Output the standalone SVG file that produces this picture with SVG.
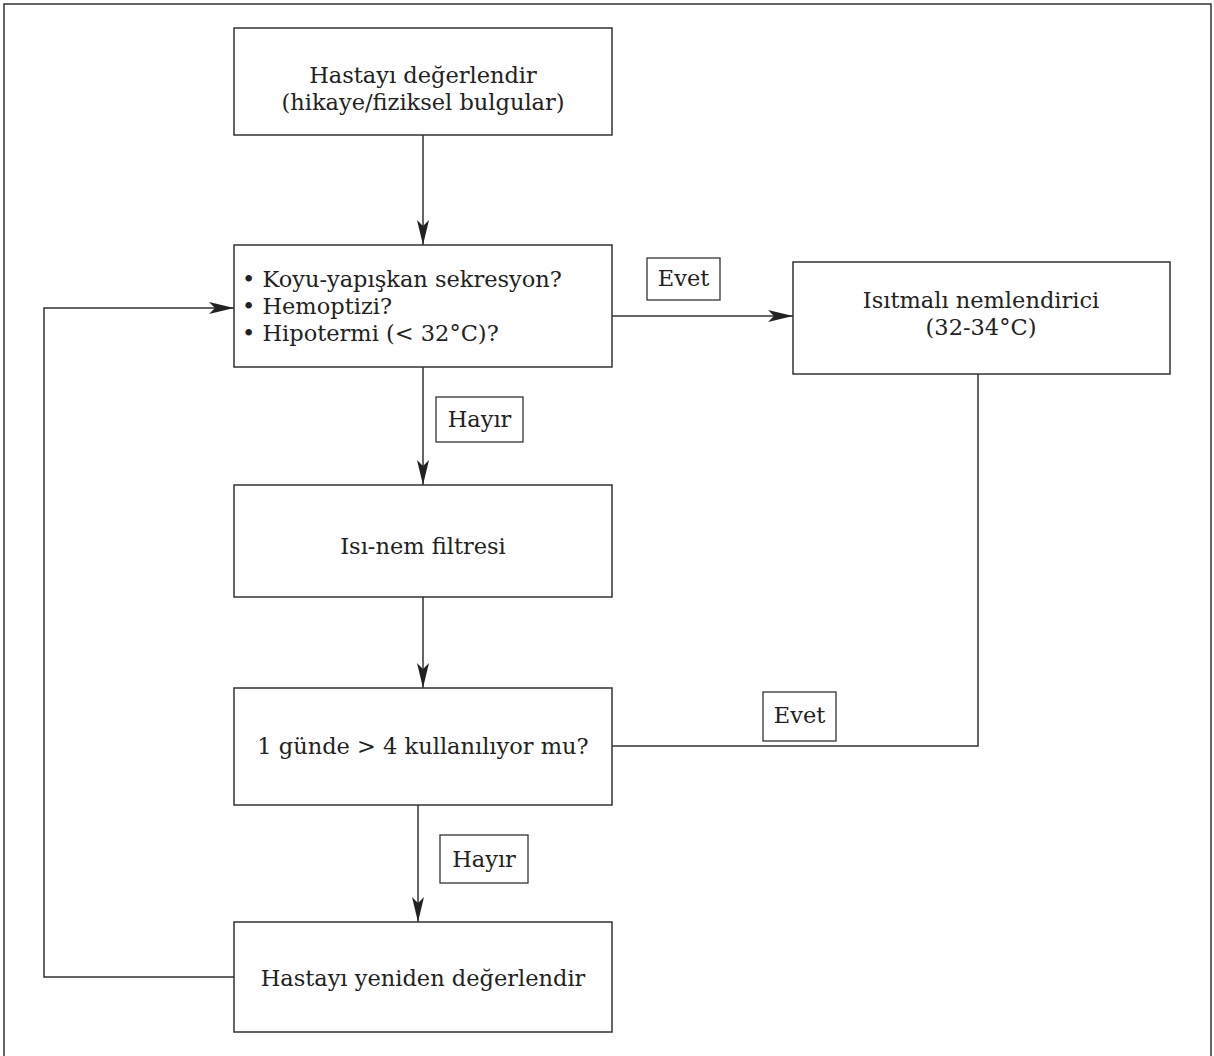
<svg xmlns="http://www.w3.org/2000/svg" width="1214" height="1056" viewBox="0 0 1214 1056">
<style>
.box{fill:#fff;stroke:#333;stroke-width:1.5}
.lbl{fill:#fff;stroke:#333;stroke-width:1.3}
.t{font-family:"DejaVu Serif","Liberation Serif",serif;font-size:22.5px;fill:#222}
.c{text-anchor:middle}
.ln{fill:none;stroke:#333;stroke-width:1.5}
</style>
<defs>
<marker id="ah" viewBox="0 0 25 12" refX="25" refY="6" markerWidth="25" markerHeight="12" markerUnits="userSpaceOnUse" orient="auto">
<path d="M0,0 L25,6 L0,12 L6,6 z" fill="#222"/>
</marker>
</defs>
<rect x="4" y="4" width="1207" height="1070" fill="#fff" stroke="#333" stroke-width="1.5"/>
<g id="connectors">
<line class="ln" x1="423" y1="135" x2="423" y2="245" marker-end="url(#ah)"/>
<line class="ln" x1="612" y1="316" x2="793" y2="316" marker-end="url(#ah)"/>
<line class="ln" x1="423" y1="367" x2="423" y2="485" marker-end="url(#ah)"/>
<line class="ln" x1="423" y1="597" x2="423" y2="688" marker-end="url(#ah)"/>
<polyline class="ln" points="978,374 978,746 612,746"/>
<line class="ln" x1="418" y1="805" x2="418" y2="922" marker-end="url(#ah)"/>
<polyline class="ln" points="234,977 44,977 44,308 234,308" marker-end="url(#ah)"/>
</g>
<g id="n1"><rect class="box" x="234" y="28" width="378" height="107"/>
<text class="t c" x="423" y="83">Hastayı değerlendir</text>
<text class="t c" x="423" y="110">(hikaye/fiziksel bulgular)</text></g>
<g id="n2"><rect class="box" x="234" y="245" width="378" height="122"/>
<text class="t" x="242" y="287">• Koyu-yapışkan sekresyon?</text>
<text class="t" x="242" y="314">• Hemoptizi?</text>
<text class="t" x="242" y="341">• Hipotermi (&lt; 32°C)?</text></g>
<g id="l1"><rect class="lbl" x="647" y="258" width="73" height="42"/>
<text class="t c" x="683.5" y="286">Evet</text></g>
<g id="n3"><rect class="box" x="793" y="262" width="377" height="112"/>
<text class="t c" x="981" y="308">Isıtmalı nemlendirici</text>
<text class="t c" x="981" y="335">(32-34°C)</text></g>
<g id="l2"><rect class="lbl" x="436" y="397" width="87" height="45"/>
<text class="t c" x="479.5" y="427">Hayır</text></g>
<g id="n4"><rect class="box" x="234" y="485" width="378" height="112"/>
<text class="t c" x="423" y="554">Isı-nem filtresi</text></g>
<g id="n5"><rect class="box" x="234" y="688" width="378" height="117"/>
<text class="t c" x="423" y="754">1 günde &gt; 4 kullanılıyor mu?</text></g>
<g id="l3"><rect class="lbl" x="763" y="692" width="73" height="49"/>
<text class="t c" x="799.5" y="723">Evet</text></g>
<g id="l4"><rect class="lbl" x="440" y="835" width="88" height="48"/>
<text class="t c" x="484" y="867">Hayır</text></g>
<g id="n6"><rect class="box" x="234" y="922" width="378" height="110"/>
<text class="t c" x="423" y="986">Hastayı yeniden değerlendir</text></g>
</svg>
